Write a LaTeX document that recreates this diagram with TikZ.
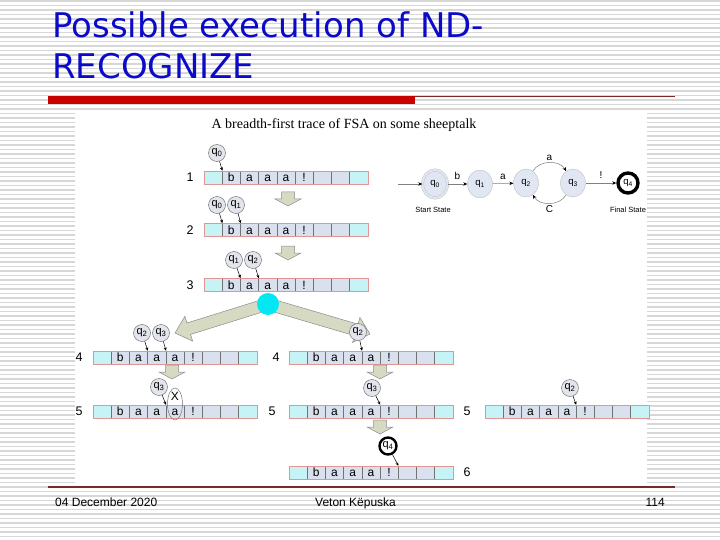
\documentclass[tikz,border=0pt]{standalone}
\usepackage{fontspec}
\setmainfont{Liberation Sans}
\newfontfamily\titlefont{DejaVu Sans}
\newfontfamily\serifont{Liberation Serif}
\usetikzlibrary{calc,arrows.meta,shapes.geometric}
\definecolor{titleblue}{RGB}{10,10,200}
\definecolor{barred}{RGB}{200,0,0}
\definecolor{darkred}{RGB}{125,40,40}
\definecolor{stripe}{RGB}{215,215,215}
\definecolor{cellfill}{RGB}{218,225,238}
\definecolor{endcell}{RGB}{198,244,246}
\definecolor{khaki}{RGB}{214,218,194}
\definecolor{headfill}{RGB}{226,229,236}
\definecolor{ballcyan}{RGB}{0,232,242}
\definecolor{statefill}{RGB}{224,230,242}
\definecolor{tapeline}{RGB}{225,150,150}
\tikzset{
  cellbox/.style={draw=black!55, line width=0.4pt, fill=cellfill, minimum width=18.2pt, minimum height=13pt, inner sep=0pt, text height=8.5pt, text depth=0pt, font=\fontsize{12}{12}\selectfont},
  endbox/.style={cellbox, fill=endcell},
  tapeoutline/.style={draw=tapeline, line width=0.5pt},
  headc/.style={circle, draw=black!60, fill=headfill, line width=0.4pt, inner sep=0pt, minimum size=17pt, font=\fontsize{11}{11}\selectfont},
  finalhead/.style={headc, draw=black, line width=2.4pt, fill=white},
  headarrow/.style={-{Stealth[length=3.5pt,width=3pt]}, line width=0.5pt, black},
  blockarrow/.style={draw=black!45, fill=khaki, line width=0.5pt},
  rowlabel/.style={font=\fontsize{12.5}{12.5}\selectfont, inner sep=0pt},
  fsastate/.style={ellipse, draw=black!25, fill=statefill, minimum width=25pt, minimum height=28pt, inner sep=0pt, font=\fontsize{9.5}{9.5}\selectfont},
  fsaedge/.style={draw=black!50, line width=0.5pt, -{Stealth[length=4pt,width=3.5pt,black]}},
  fsalabel/.style={font=\fontsize{10}{10}\selectfont, inner sep=0pt},
  smalltext/.style={font=\fontsize{7.5}{7.5}\selectfont, inner sep=0pt},
}
\newcommand{\drawtape}[3]{%
  \foreach \i/\t/\s in {0//endbox,1/b/cellbox,2/a/cellbox,3/a/cellbox,4/a/cellbox,5/!/cellbox,6//cellbox,7//cellbox,8//endbox}{%
    \node[\s] (#1c\i) at ({#2+9.1+18.2*\i},#3) {\t};
  }%
  \draw[tapeoutline] (#1c0.north west) rectangle (#1c8.south east);
}
\newcommand{\downblock}[2]{%
  \draw[blockarrow] ({#1-6.5},{#2-7}) -- ({#1+6.5},{#2-7}) -- ({#1+6.5},{#2}) -- ({#1+13},{#2}) -- ({#1},{#2+7}) -- ({#1-13},{#2}) -- ({#1-6.5},{#2}) -- cycle;
}
\begin{document}
\begin{tikzpicture}[x=1pt,y=-1pt]
\useasboundingbox (0,0) rectangle (720,540);
% background stripes
\fill[white] (0,0) rectangle (720,540);
\foreach \k in {0,...,120} \draw[stripe, line width=1.6pt] (0,{4.5*\k+1}) -- (720,{4.5*\k+1});
% title
\node[anchor=base west, font=\titlefont\fontsize{34}{34}\selectfont, text=titleblue, inner sep=0pt] (title1) at (52,38) {Possible execution of ND-};
\node[anchor=base west, font=\titlefont\fontsize{34}{34}\selectfont, text=titleblue, inner sep=0pt] (title2) at (52,79) {RECOGNIZE};
\fill[barred] (48,96) rectangle (415,104);
\draw[darkred, line width=1pt] (415,97) -- (675,97);
% image area
\fill[white] (75,112) rectangle (647,486);
\draw[darkred, line width=1.4pt] (48,487) -- (675,487);
% footer
\node[anchor=base west, font=\fontsize{12}{12}\selectfont, inner sep=0pt] (foot1) at (55,506) {04 December 2020};
\node[anchor=base west, font=\fontsize{12}{12}\selectfont, inner sep=0pt] (foot2) at (315,506) {Veton Këpuska};
\node[anchor=base east, font=\fontsize{12}{12}\selectfont, inner sep=0pt] (foot3) at (665,506) {114};
% diagram title
\node[font=\serifont\fontsize{14}{14}\selectfont, inner sep=0pt] (dtitle) at (344,125) {A breadth-first trace of FSA on some sheeptalk};
% big split arrows
\begin{scope}[shift={(268,304)}, rotate=-162.68]
  \draw[blockarrow] (0pt,6pt) -- (83pt,6pt) -- (83pt,13pt) -- (97.4pt,0pt) -- (83pt,-13pt) -- (83pt,-6pt) -- (0pt,-6pt) -- cycle;
\end{scope}
\begin{scope}[shift={(268,304)}, rotate=-16.39]
  \draw[blockarrow] (0pt,6pt) -- (92pt,6pt) -- (92pt,13pt) -- (106.3pt,0pt) -- (92pt,-13pt) -- (92pt,-6pt) -- (0pt,-6pt) -- cycle;
\end{scope}
\node[circle, fill=ballcyan, minimum size=22pt, inner sep=0pt] (ball) at (268,304) {};
% tapes
\drawtape{ta}{204}{177.5}
\drawtape{tb}{204}{230}
\drawtape{tc}{204}{285}
\drawtape{tdl}{93}{357.5}
\drawtape{tel}{93}{411.5}
\drawtape{tdm}{289}{357.5}
\drawtape{tem}{289}{411.5}
\drawtape{tf}{289}{472.5}
\drawtape{ter}{485}{411.5}
% row labels
\node[rowlabel] (r1) at (190,177.5) {1};
\node[rowlabel] (r2) at (190,230) {2};
\node[rowlabel] (r3) at (190,285) {3};
\node[rowlabel] (r4a) at (79,357.5) {4};
\node[rowlabel] (r5a) at (79,411.5) {5};
\node[rowlabel] (r4b) at (276,357.5) {4};
\node[rowlabel] (r5b) at (272,411.5) {5};
\node[rowlabel] (r5c) at (467,411.5) {5};
\node[rowlabel] (r6) at (467,472.5) {6};
% small block arrows
\downblock{288}{199}
\downblock{288}{253}
\downblock{172}{372}
\downblock{380}{372}
\downblock{380}{427}
% heads
\node[headc] (ha0) at (217,153) {q\textsubscript{0}};
\draw[headarrow] (ha0) -- (tac0.north east);
\node[headc] (hb0) at (217,205) {q\textsubscript{0}};
\node[headc] (hb1) at (236,205) {q\textsubscript{1}};
\draw[headarrow] (hb0) -- (tbc0.north east);
\draw[headarrow] (hb1) -- (tbc1.north east);
\node[headc] (hc1) at (234,260) {q\textsubscript{1}};
\node[headc] (hc2) at (253,260) {q\textsubscript{2}};
\draw[headarrow] (hc1) -- (tcc1.north east);
\draw[headarrow] (hc2) -- (tcc2.north east);
\node[headc] (hd2) at (142,333) {q\textsubscript{2}};
\node[headc] (hd3) at (161,333) {q\textsubscript{3}};
\draw[headarrow] (hd2) -- (tdlc2.north east);
\draw[headarrow] (hd3) -- (tdlc3.north east);
\node[headc] (he3) at (159,387) {q\textsubscript{3}};
\draw[headarrow] (he3) -- (telc3.north east);
\node[font=\fontsize{12}{12}\selectfont, inner sep=0pt] (xmark) at (175,396) {X};
\draw[black!55, line width=0.5pt] (175,404) ellipse [x radius=7.5, y radius=16];
\node[headc] (hm2) at (358,332) {q\textsubscript{2}};
\draw[headarrow] (hm2) -- (tdmc3.north east);
\node[headc] (hn3) at (372,388) {q\textsubscript{3}};
\draw[headarrow] (hn3) -- (temc4.north east);
\node[finalhead] (hf4) at (388,446) {q\textsubscript{4}};
\draw[headarrow] (hf4) -- (tfc5.north east);
\node[headc] (hr2) at (570,388) {q\textsubscript{2}};
\draw[headarrow] (hr2) -- (terc4.north east);
% FSA
\coordinate (fstart) at (398,184);
\node[fsastate, double=statefill, double distance=2pt] (s0) at (435,184) {q\textsubscript{0}};
\node[fsastate] (s1) at (480,184) {q\textsubscript{1}};
\node[fsastate] (s2) at (526,183) {q\textsubscript{2}};
\node[fsastate] (s3) at (573,183) {q\textsubscript{3}};
\node[circle, draw=black, line width=3.4pt, fill=white, minimum size=20pt, inner sep=0pt, font=\fontsize{9.5}{9.5}\selectfont] (s4) at (628,183) {q\textsubscript{4}};
\draw[fsaedge] (fstart) -- (s0);
\draw[fsaedge] (s0) -- node[fsalabel, above=4pt] {b} (s1);
\draw[fsaedge] (s1) -- node[fsalabel, above=4pt] {a} (s2);
\draw[fsaedge] (s2.60) to[out=60, in=120] node[fsalabel, above=2pt] {a} (s3.120);
\draw[fsaedge] (s3.240) to[out=240, in=300] node[fsalabel, below=2pt] {C} (s2.300);
\draw[fsaedge] (s3) -- node[fsalabel, above=4pt] {!} (s4);
\node[smalltext] (sslabel) at (433,210) {Start State};
\node[smalltext] (fslabel) at (628,210) {Final State};
\end{tikzpicture}
\end{document}
